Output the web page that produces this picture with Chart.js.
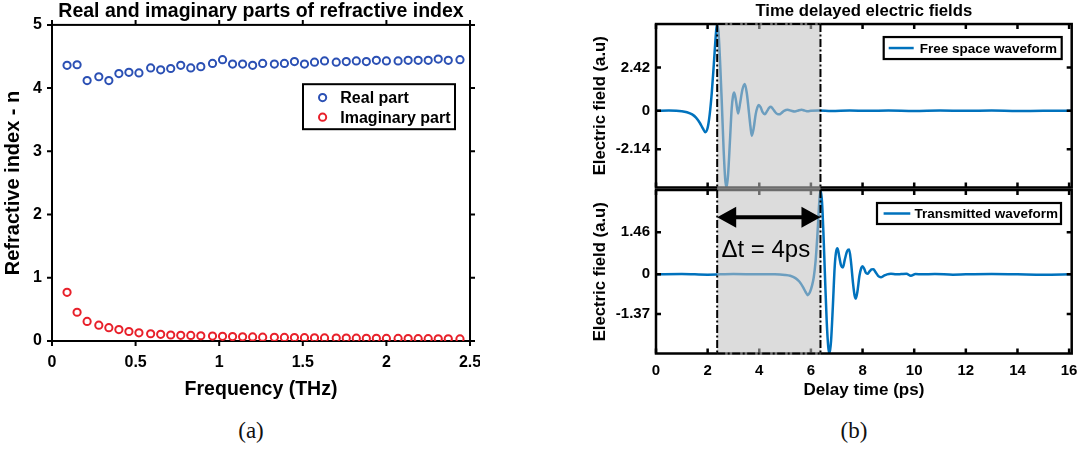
<!DOCTYPE html>
<html>
<head>
<meta charset="utf-8">
<script src="https://cdn.jsdelivr.net/npm/chart.js@4.4.1/dist/chart.umd.min.js"></script>
<style>
  html, body { margin: 0; padding: 0; background: #fff; }
  body { width: 1079px; height: 453px; position: relative; overflow: hidden; }
  canvas { position: absolute; }
  #indexChart { left: 0; top: 0; }
  #freeChart { left: 580px; top: 0; }
  #transChart { left: 580px; top: 180px; }
  .caption {
    position: absolute; top: 418px; width: 60px; margin-left: -30px;
    text-align: center; font-family: "Liberation Serif", "Times New Roman", serif;
    font-size: 23px; color: #111;
  }
</style>
</head>
<body>
<canvas id="indexChart" width="480" height="410" style="width:480px;height:410px"></canvas>
<canvas id="freeChart" width="499" height="190" style="width:499px;height:190px"></canvas>
<canvas id="transChart" width="499" height="230" style="width:499px;height:230px"></canvas>
<div class="caption" style="left:251px">(a)</div>
<div class="caption" style="left:854px">(b)</div>

<script>
// ---- (a) refractive index vs frequency ----
const freqTHz = [0.09, 0.15, 0.21, 0.28, 0.34, 0.40, 0.46, 0.52, 0.59, 0.65,
                 0.71, 0.77, 0.83, 0.89, 0.96, 1.02, 1.08, 1.14, 1.20, 1.26,
                 1.33, 1.39, 1.45, 1.51, 1.57, 1.63, 1.70, 1.76, 1.82, 1.88,
                 1.94, 2.00, 2.07, 2.13, 2.19, 2.25, 2.31, 2.37, 2.44];
const realPart = [4.36, 4.37, 4.12, 4.18, 4.12, 4.23, 4.25, 4.24, 4.32, 4.29,
                  4.31, 4.36, 4.32, 4.34, 4.39, 4.45, 4.38, 4.38, 4.36, 4.39,
                  4.38, 4.39, 4.42, 4.38, 4.41, 4.43, 4.41, 4.42, 4.43, 4.42,
                  4.44, 4.43, 4.43, 4.44, 4.44, 4.44, 4.46, 4.44, 4.45];
const imagPart = [0.77, 0.455, 0.31, 0.25, 0.21, 0.18, 0.15, 0.13, 0.115, 0.105,
                  0.095, 0.09, 0.088, 0.083, 0.078, 0.074, 0.07, 0.066, 0.064, 0.061,
                  0.058, 0.056, 0.054, 0.052, 0.05, 0.049, 0.047, 0.046, 0.045, 0.043,
                  0.042, 0.041, 0.04, 0.038, 0.037, 0.036, 0.035, 0.034, 0.033];
const freqTicks = [0, 0.5, 1, 1.5, 2, 2.5];
const indexTicks = [0, 1, 2, 3, 4, 5];

// ---- (b) time-domain fields ----
const delayTicks = [0, 2, 4, 6, 8, 10, 12, 14, 16];
const delayRange = [0, 16.1];
const delayWindow = [2.37, 6.37];   // shaded pulse-delay window (ps)
const freeTime  = [0, 0.5, 1.0, 1.2, 1.4, 1.55, 1.7, 1.82, 1.91, 2.0,
                   2.08, 2.16, 2.24, 2.31, 2.36, 2.42, 2.48, 2.55, 2.62, 2.68,
                   2.73, 2.79, 2.86, 2.93, 2.98, 3.03, 3.1, 3.18, 3.26, 3.35,
                   3.44, 3.52, 3.6, 3.66, 3.71, 3.78, 3.86, 3.93, 3.98, 4.05,
                   4.13, 4.21, 4.3, 4.38, 4.45, 4.53, 4.62, 4.7, 4.77, 4.86,
                   4.96, 5.1, 5.24, 5.38, 5.51, 5.64, 5.76, 5.88, 6.0, 6.3,
                   6.8, 7.5, 8.2, 9.0, 10.0, 11.0, 12.0, 13.0, 14.0, 15.0, 16.1];
const freeField = [0, 0.01, -0.02, -0.08, -0.2, -0.38, -0.68, -1.0, -1.2, -0.95,
                   -0.2, 1.0, 2.6, 4.1, 4.84, 4.4, 2.8, 0.4, -2.2, -3.8,
                   -4.28, -3.6, -1.8, 0.1, 0.8, 1.02, 0.55, -0.15, 0.45, 1.2,
                   1.5, 0.95, -0.1, -0.9, -1.39, -1.0, -0.2, 0.2, 0.32, 0.2,
                   -0.08, -0.19, -0.02, 0.16, 0.22, 0.1, -0.08, -0.18, -0.2, -0.12,
                   0.0, 0.06, 0.0, -0.04, 0.02, 0.06, 0.01, -0.03, 0.0, 0.01,
                   -0.01, 0.01, 0.0, 0.01, -0.01, 0.01, 0.0, 0.01, -0.01, 0.0, 0.0];
const freeFieldTicks = [-2.14, 0, 2.42];
const freeFieldRange = [-4.28, 4.84];

const transTime  = [0, 1, 2, 3, 4, 4.6, 5.0, 5.2, 5.4, 5.55,
                    5.7, 5.8, 5.88, 5.96, 6.04, 6.11, 6.18, 6.25, 6.32, 6.37,
                    6.43, 6.49, 6.55, 6.61, 6.67, 6.72, 6.78, 6.85, 6.92, 6.97,
                    7.03, 7.1, 7.17, 7.24, 7.31, 7.4, 7.48, 7.55, 7.63, 7.69,
                    7.74, 7.8, 7.88, 7.95, 8.0, 8.07, 8.13, 8.19, 8.27, 8.35,
                    8.42, 8.5, 8.6, 8.71, 8.82, 8.95, 9.1, 9.3, 9.5, 9.7,
                    9.87, 10.05, 10.3, 10.8, 11.5, 12, 13, 14, 15, 16.1];
const transField = [0, 0.01, -0.01, 0.01, 0, 0.0, -0.02, -0.05, -0.13, -0.25,
                    -0.45, -0.62, -0.72, -0.62, -0.4, -0.1, 0.45, 1.35, 2.45, 2.92,
                    2.5, 1.3, -0.2, -1.6, -2.5, -2.74, -2.3, -1.1, 0.25, 0.75,
                    0.9, 0.6, 0.3, 0.24, 0.5, 0.8, 0.86, 0.45, -0.3, -0.72,
                    -0.84, -0.6, -0.05, 0.22, 0.28, 0.18, 0.05, 0.02, 0.1, 0.17,
                    0.18, 0.08, -0.05, -0.1, -0.05, 0.0, 0.02, 0.0, 0.01, 0.02,
                    -0.05, 0.01, 0.0, 0.01, -0.01, 0.0, 0.01, 0.0, -0.01, 0.0];
const transFieldTicks = [-1.37, 0, 1.46];
const transFieldRange = [-2.74, 2.92];

const arrowLevel = 1.98;   // field value where the delay arrow sits
const labelLevel = 0.6;    // baseline of the delay label

const FONT = "'Liberation Sans', Arial, Helvetica, sans-serif";
Chart.defaults.font.family = FONT;
Chart.defaults.color = '#000';
Chart.defaults.animation = false;

const BLUE_MARK = '#2b50b4';
const RED_MARK = '#e8202a';
const WAVE = '#0072bd';

const fixedTicks = (values) => (scale) => { scale.ticks = values.map(v => ({ value: v })); };
const points = (xs, ys) => xs.map((x, i) => ({ x, y: ys[i] }));
const noGrid = { display: false, drawTicks: false, tickLength: 0 };

// box around the plot with MATLAB-like ticks on all four sides
function frame(opts) {
  const hook = opts.under ? 'beforeDatasetsDraw' : 'afterDatasetsDraw';
  return {
    id: 'frame',
    [hook](chart) {
      const { ctx, chartArea: a, scales: { x, y } } = chart;
      const s = opts.inward ? 1 : -1, L = opts.tickLen;
      ctx.save();
      ctx.strokeStyle = '#000';
      ctx.lineWidth = opts.lineWidth;
      ctx.strokeRect(a.left, a.top, a.right - a.left, a.bottom - a.top);
      ctx.beginPath();
      x.ticks.forEach(t => {
        const px = x.getPixelForValue(t.value);
        ctx.moveTo(px, a.bottom); ctx.lineTo(px, a.bottom - s * L);
        ctx.moveTo(px, a.top); ctx.lineTo(px, a.top + s * L);
      });
      y.ticks.forEach(t => {
        const py = y.getPixelForValue(t.value);
        ctx.moveTo(a.left, py); ctx.lineTo(a.left + s * L, py);
        ctx.moveTo(a.right, py); ctx.lineTo(a.right - s * L, py);
      });
      ctx.stroke();
      ctx.restore();
    }
  };
}

// legend box anchored to the upper-right corner of the plot area
function legendBox(o) {
  return {
    id: 'legendBox',
    afterDraw(chart) {
      const { ctx, chartArea: a } = chart;
      const x0 = a.right - o.right - o.width, y0 = a.top + o.top;
      ctx.save();
      ctx.fillStyle = '#fff';
      ctx.fillRect(x0, y0, o.width, o.height);
      ctx.strokeStyle = '#000';
      ctx.lineWidth = o.border;
      ctx.strokeRect(x0, y0, o.width, o.height);
      chart.data.datasets.forEach((ds, i) => {
        const cy = y0 + o.rows[i];
        if (o.marker) {
          ctx.beginPath();
          ctx.lineWidth = ds.pointBorderWidth;
          ctx.strokeStyle = ds.borderColor;
          ctx.arc(x0 + o.symX, cy, ds.pointRadius, 0, Math.PI * 2);
          ctx.stroke();
        } else {
          ctx.beginPath();
          ctx.lineWidth = ds.borderWidth;
          ctx.strokeStyle = ds.borderColor;
          ctx.moveTo(x0 + o.lineFrom, cy);
          ctx.lineTo(x0 + o.lineTo, cy);
          ctx.stroke();
        }
        ctx.fillStyle = '#000';
        ctx.font = o.font;
        ctx.textBaseline = 'middle';
        ctx.textAlign = 'left';
        ctx.fillText(ds.label, x0 + o.textX, cy + 1);
      });
      ctx.restore();
    }
  };
}

// shaded delay window with dash-dot outline, optional arrow and label
function delayWindowMark(o) {
  return {
    id: 'delayWindow',
    afterDatasetsDraw(chart) {
      const { ctx, chartArea: a, scales: { x, y } } = chart;
      const x0 = x.getPixelForValue(delayWindow[0]);
      const x1 = x.getPixelForValue(delayWindow[1]);
      ctx.save();
      ctx.fillStyle = 'rgba(192,192,192,0.56)';
      ctx.fillRect(x0, a.top - 1.5, x1 - x0, a.bottom - a.top + 3);
      ctx.strokeStyle = '#000';
      ctx.lineWidth = 2;
      ctx.setLineDash([8, 2.5, 2, 2.5]);
      ctx.beginPath();
      ctx.moveTo(x0, a.top); ctx.lineTo(x0, a.bottom);
      ctx.moveTo(x1, a.top); ctx.lineTo(x1, a.bottom);
      if (o.edge === 'top') { ctx.moveTo(x0, a.top); ctx.lineTo(x1, a.top); }
      if (o.edge === 'bottom') { ctx.moveTo(x0, a.bottom); ctx.lineTo(x1, a.bottom); }
      ctx.stroke();
      ctx.setLineDash([]);
      if (o.arrow) {
        const ay = y.getPixelForValue(arrowLevel);
        const head = 19, half = 10.5;
        ctx.lineWidth = 4;
        ctx.beginPath();
        ctx.moveTo(x0 + head - 2, ay); ctx.lineTo(x1 - head + 2, ay);
        ctx.stroke();
        ctx.fillStyle = '#000';
        ctx.beginPath();
        ctx.moveTo(x0, ay); ctx.lineTo(x0 + head, ay - half); ctx.lineTo(x0 + head, ay + half); ctx.closePath();
        ctx.moveTo(x1, ay); ctx.lineTo(x1 - head, ay - half); ctx.lineTo(x1 - head, ay + half); ctx.closePath();
        ctx.fill();
        ctx.font = `24px ${FONT}`;
        ctx.textAlign = 'center';
        ctx.textBaseline = 'alphabetic';
        ctx.fillText('\u0394t = 4ps', (x0 + x1) / 2 - 3, y.getPixelForValue(labelLevel));
      }
      ctx.restore();
    }
  };
}

// ---------- chart (a) ----------
new Chart(document.getElementById('indexChart'), {
  type: 'scatter',
  data: {
    datasets: [
      { label: 'Real part', data: points(freqTHz, realPart),
        borderColor: BLUE_MARK, backgroundColor: 'rgba(0,0,0,0)',
        pointRadius: 3.6, pointBorderWidth: 2, pointHoverRadius: 3.6 },
      { label: 'Imaginary part', data: points(freqTHz, imagPart),
        borderColor: RED_MARK, backgroundColor: 'rgba(0,0,0,0)',
        pointRadius: 3.6, pointBorderWidth: 2, pointHoverRadius: 3.6 }
    ]
  },
  options: {
    responsive: false,
    devicePixelRatio: 1,
    layout: { padding: { left: 0, right: 10, top: 0, bottom: 0 } },
    plugins: {
      legend: { display: false },
      tooltip: { enabled: false },
      title: {
        display: true, fullSize: false,
        text: 'Real and imaginary parts of refractive index',
        font: { size: 19.5, weight: 'bold' }, color: '#000',
        padding: { top: 0, bottom: 1.5 }
      }
    },
    scales: {
      x: {
        type: 'linear', min: 0, max: 2.5,
        afterBuildTicks: fixedTicks(freqTicks),
        afterFit: (s) => { s.height = 69; s.paddingLeft = 0; s.paddingRight = 0; },
        grid: noGrid, border: { display: false },
        ticks: { font: { size: 16, weight: 'bold' }, padding: 12, maxRotation: 0,
                 callback: (v) => String(v) },
        title: { display: true, text: 'Frequency (THz)', font: { size: 19.5, weight: 'bold' },
                 padding: { top: 0, bottom: 9 } }
      },
      y: {
        type: 'linear', min: 0, max: 5,
        afterBuildTicks: fixedTicks(indexTicks),
        afterFit: (s) => { s.width = 52; s.paddingTop = 0; s.paddingBottom = 0; },
        grid: noGrid, border: { display: false },
        ticks: { font: { size: 16, weight: 'bold' }, padding: 10, callback: (v) => String(v) },
        title: { display: true, text: 'Refractive index - n', font: { size: 20, weight: 'bold' },
                 padding: { top: 1, bottom: 0 } }
      }
    }
  },
  plugins: [
    frame({ inward: false, tickLen: 5, lineWidth: 2, under: true }),
    legendBox({ right: 15, top: 59.3, width: 152, height: 45, border: 2,
                marker: true, symX: 19.6, textX: 37.3, rows: [13.4, 33],
                font: `bold 16px ${FONT}` })
  ]
});

// ---------- chart (b), shared axis settings ----------
function fieldChart(id, cfg) {
  return new Chart(document.getElementById(id), {
    type: 'line',
    data: {
      datasets: [{
        label: cfg.label, data: points(cfg.time, cfg.field),
        borderColor: WAVE, borderWidth: 2.5, pointRadius: 0,
        cubicInterpolationMode: 'monotone', fill: false
      }]
    },
    options: {
      responsive: false,
      devicePixelRatio: 1,
      layout: { padding: cfg.padding },
      plugins: {
        legend: { display: false },
        tooltip: { enabled: false },
        title: cfg.title
      },
      scales: {
        x: {
          type: 'linear', min: delayRange[0], max: delayRange[1],
          afterBuildTicks: fixedTicks(delayTicks),
          afterFit: (s) => { s.height = cfg.xHeight; s.paddingLeft = 0; s.paddingRight = 0; },
          grid: noGrid, border: { display: false },
          ticks: { display: cfg.showX, font: { size: 15, weight: 'bold' }, padding: 8.5, maxRotation: 0,
                   callback: (v) => String(v) },
          title: { display: cfg.showX, text: 'Delay time (ps)', font: { size: 17, weight: 'bold' },
                   padding: { top: 0, bottom: 9 } }
        },
        y: {
          type: 'linear', min: cfg.range[0], max: cfg.range[1],
          afterBuildTicks: fixedTicks(cfg.ticks),
          afterFit: (s) => { s.width = 76; s.paddingTop = 0; s.paddingBottom = 0; },
          grid: noGrid, border: { display: false },
          ticks: { font: { size: 15, weight: 'bold' }, padding: 6, callback: (v) => String(v) },
          title: { display: true, text: 'Electric field (a.u)', font: { size: 16.7, weight: 'bold' },
                   padding: { top: 10, bottom: 0 } }
        }
      }
    },
    plugins: [
      frame({ inward: true, tickLen: 5, lineWidth: 2.5, under: false }),
      delayWindowMark({ edge: cfg.edge, arrow: cfg.arrow }),
      legendBox(cfg.legend)
    ]
  });
}

fieldChart('freeChart', {
  label: 'Free space waveform', time: freeTime, field: freeField,
  ticks: freeFieldTicks, range: freeFieldRange,
  padding: { left: 0, right: 7.3, top: 0, bottom: 2.5 },
  xHeight: 0, showX: false, edge: 'top', arrow: false,
  title: { display: true, fullSize: false, text: 'Time delayed electric fields',
           font: { size: 16.7, weight: 'bold' }, color: '#000', padding: { top: 1, bottom: 3 } },
  legend: { right: 10, top: 13, width: 178, height: 22, border: 2.2,
            marker: false, lineFrom: 5, lineTo: 30, textX: 36, rows: [11],
            font: `bold 13.5px ${FONT}` }
});

fieldChart('transChart', {
  label: 'Transmitted waveform', time: transTime, field: transField,
  ticks: transFieldTicks, range: transFieldRange,
  padding: { left: 0, right: 7.3, top: 10, bottom: 0 },
  xHeight: 56.5, showX: true, edge: 'bottom', arrow: true,
  title: { display: false },
  legend: { right: 10.7, top: 13, width: 184, height: 21, border: 2.2,
            marker: false, lineFrom: 6.6, lineTo: 33.3, textX: 37.6, rows: [10.5],
            font: `bold 13.5px ${FONT}` }
});
</script>
</body>
</html>
